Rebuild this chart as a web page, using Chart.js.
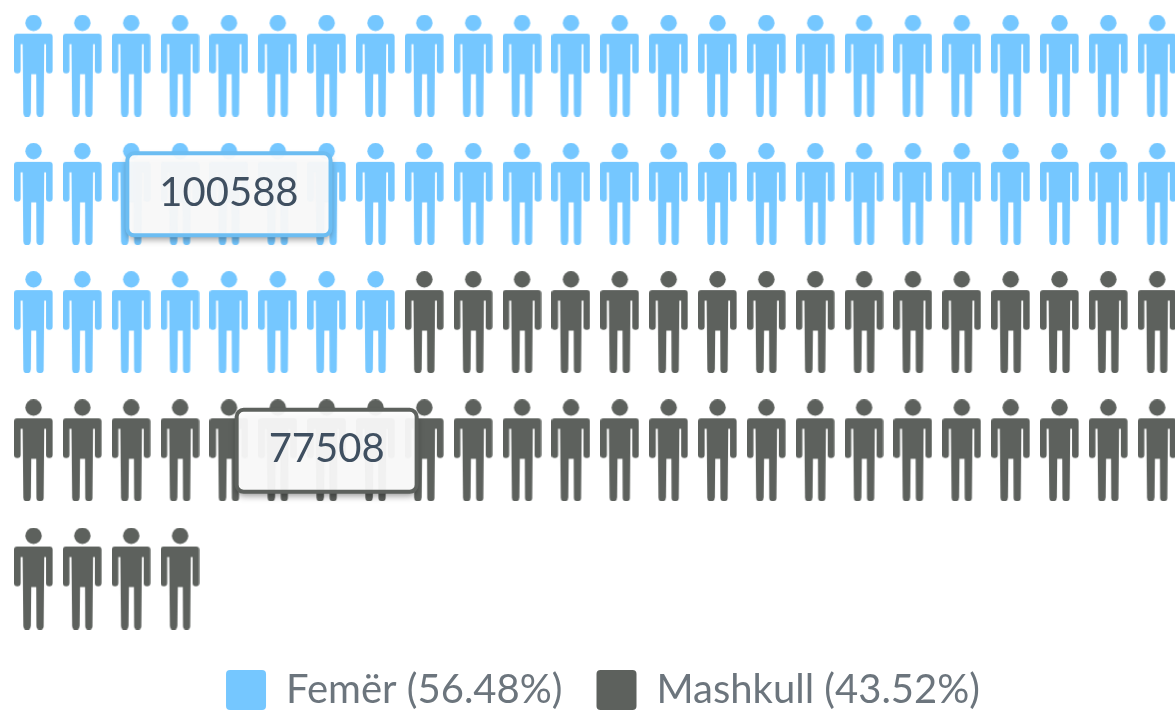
<!DOCTYPE html>
<html>
<head>
<meta charset="utf-8">
<style>
html,body{margin:0;padding:0;background:#fff;overflow:hidden}
#wrap{width:1175px;height:712px;position:relative}
canvas{display:block}
</style>
<script src="https://cdn.jsdelivr.net/npm/chart.js@4"></script>
</head>
<body>
<div id="wrap"><canvas id="c" width="1175" height="712"></canvas></div>
<script>
const categories = ["Femër", "Mashkull"];
const values = [100588, 77508];
const shares = ["56.48%", "43.52%"];
const iconCounts = [56, 44];
const colors = ["#75c7ff", "#5d615d"];
const borderColors = ["#6cbdf2", "#5d615d"];
const columnsPerRow = 24;
const labelColumns = [4, 6];
const labelRows = [1, 3];

function personIcon(color) {
  const cv = document.createElement("canvas");
  cv.width = 39; cv.height = 102;
  const g = cv.getContext("2d");
  g.fillStyle = color;
  g.beginPath(); g.arc(19.5, 8.2, 8.2, 0, Math.PI * 2); g.fill();
  g.beginPath();
  g.moveTo(3, 19);
  g.lineTo(36, 19);
  g.arcTo(38.6, 19, 38.6, 22, 3);
  g.lineTo(38.6, 55.5);
  g.arc(35.3, 55.5, 3.3, 0, Math.PI);
  g.lineTo(32, 29.5);
  g.lineTo(30.2, 29.5);
  g.lineTo(29.6, 99);
  g.arc(26, 98.5, 3.6, 0, Math.PI);
  g.lineTo(22.2, 59.5);
  g.lineTo(17.2, 59.5);
  g.lineTo(16.8, 98.5);
  g.arc(13, 98.5, 3.7, 0, Math.PI);
  g.lineTo(8.6, 29.5);
  g.lineTo(6.6, 29.5);
  g.lineTo(6.6, 55.5);
  g.arc(3.3, 55.5, 3.3, 0, Math.PI);
  g.lineTo(0, 22);
  g.arcTo(0, 19, 3, 19, 3);
  g.closePath();
  g.fill();
  return cv;
}

let cursor = 0;
const datasets = categories.map((name, s) => {
  const data = [];
  for (let i = 0; i < iconCounts[s]; i++, cursor++) {
    data.push({ x: cursor % columnsPerRow, y: Math.floor(cursor / columnsPerRow) });
  }
  return {
    label: name + " (" + shares[s] + ")",
    data,
    pointStyle: personIcon(colors[s]),
    backgroundColor: colors[s],
    borderColor: colors[s],
    pointRadius: 20,
    pointHoverRadius: 20,
    clip: false
  };
});

const legendPlacement = {
  id: "legendPlacement",
  afterLayout(chart) {
    const l = chart.legend;
    l.top += 8; l.bottom += 8;
    l.left += 15.5; l.right += 15.5;
  }
};

const valueLabels = {
  id: "valueLabels",
  afterDatasetsDraw(chart) {
    const { ctx, scales } = chart;
    ctx.save();
    ctx.font = "40px Lato";
    values.forEach((v, i) => {
      const cx = scales.x.getPixelForValue(labelColumns[i]);
      const cy = scales.y.getPixelForValue(labelRows[i]);
      const text = String(v);
      const w = ctx.measureText(text).width + 64, h = 82;
      const boxY = cy - h / 2 + 0.5;
      ctx.save();
      ctx.shadowColor = "rgba(0,0,0,0.45)";
      ctx.shadowBlur = 7;
      ctx.shadowOffsetY = 4;
      ctx.beginPath();
      ctx.roundRect(cx - w / 2, boxY, w, h, 7);
      ctx.fillStyle = "rgba(255,255,255,0.93)";
      ctx.fill();
      ctx.restore();
      ctx.beginPath();
      ctx.roundRect(cx - w / 2, boxY, w, h, 7);
      ctx.lineWidth = 4;
      ctx.strokeStyle = borderColors[i];
      ctx.stroke();
      ctx.fillStyle = "#3f4f60";
      ctx.textAlign = "center";
      ctx.textBaseline = "middle";
      ctx.fillText(text, cx, cy - 1);
    });
    ctx.restore();
  }
};

new Chart(document.getElementById("c"), {
  type: "scatter",
  data: { datasets },
  plugins: [valueLabels, legendPlacement],
  options: {
    responsive: false,
    animation: false,
    layout: { padding: 0, autoPadding: false },
    events: [],
    scales: {
      x: { type: "linear", display: false, min: -0.686, max: 23.364 },
      y: { type: "linear", display: false, reverse: true, min: -0.512, max: 4.386 }
    },
    plugins: {
      tooltip: { enabled: false },
      legend: {
        position: "bottom",
        labels: {
          font: { family: "Lato", size: 40 },
          color: "#6c757d",
          boxWidth: 40,
          boxHeight: 40,
          padding: 34,
          useBorderRadius: true,
          borderRadius: 4,
          generateLabels(chart) {
            return chart.data.datasets.map((d, i) => ({
              text: d.label,
              fillStyle: colors[i],
              strokeStyle: colors[i],
              fontColor: "#6c757d",
              lineWidth: 0,
              datasetIndex: i,
              borderRadius: 4
            }));
          }
        }
      }
    }
  }
});
</script>
</body>
</html>
